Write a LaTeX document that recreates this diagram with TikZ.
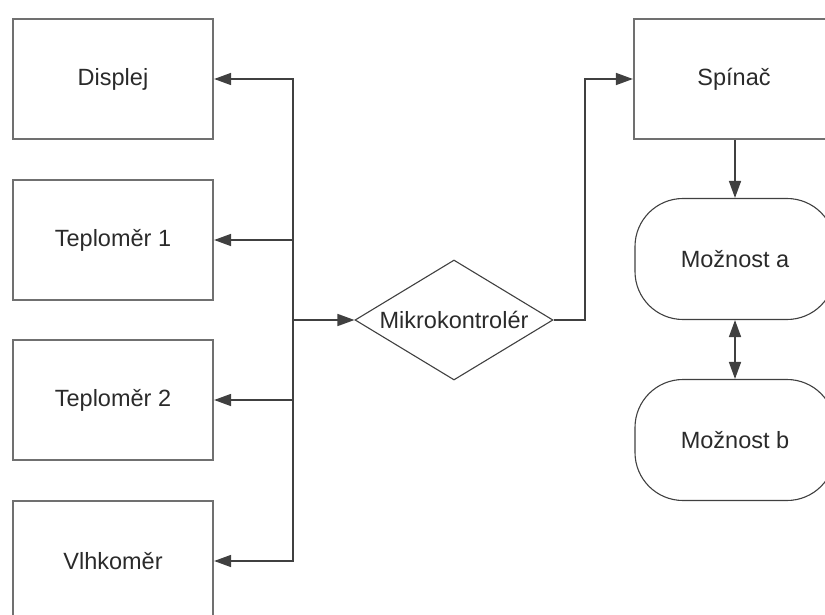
\documentclass[tikz,border=0pt]{standalone}
\usepackage{fontspec}
\setmainfont{Liberation Sans}
\usetikzlibrary{shapes.geometric,arrows.meta}
\definecolor{boxline}{HTML}{707070}
\definecolor{conline}{HTML}{404040}
\definecolor{txt}{HTML}{2A2A2A}
\begin{document}
\begin{tikzpicture}[x=1bp,y=-1bp,
  font=\fontsize{23.5bp}{28bp}\selectfont,
  every node/.style={text=txt},
  rectbox/.style={draw=boxline,line width=2.2bp,minimum width=200bp,minimum height=120bp,inner sep=0pt,rectangle},
  stadium/.style={draw=conline,line width=1.1bp,minimum width=200bp,minimum height=121bp,inner sep=0pt,rectangle,rounded corners=48bp},
  decision/.style={draw=conline,line width=1.1bp,diamond,minimum width=198bp,minimum height=120bp,inner sep=0pt,aspect=1.65},
  arr/.style={draw=conline,line width=1.6bp,-{Triangle[length=17bp,width=12bp]}},
  dblarr/.style={draw=conline,line width=1.6bp,{Triangle[length=17bp,width=12bp]}-{Triangle[length=17bp,width=12bp]}}]
\useasboundingbox (0,0) rectangle (825,615);
\clip (0,0) rectangle (825,615);
\node[rectbox] (disp) at (113,79) {Displej};
\node[rectbox] (t1) at (113,240) {Teplom\v{e}r 1};
\node[rectbox] (t2) at (113,400) {Teplom\v{e}r 2};
\node[rectbox] (vl) at (113,561) {Vlhkom\v{e}r};
\node[decision] (mk) at (454,320) {};
\node at (454,320) {Mikrokontrol\'er};
\node[rectbox] (sp) at (734,79) {Sp\'ina\v{c}};
\node[stadium] (ma) at (735,259) {Mo\v{z}nost a};
\node[stadium] (mb) at (735,440) {Mo\v{z}nost b};
\coordinate (j) at (293,320);
\coordinate (k) at (585,320);
\draw[arr] (j) |- (disp.east);
\draw[arr] (j) |- (t1.east);
\draw[arr] (j) |- (t2.east);
\draw[arr] (j) |- (vl.east);
\draw[arr] (j) -- (mk.west);
\draw[arr] (mk.east) -- (k) |- (sp.west);
\draw[arr] (sp.south -| ma.north) -- (ma.north);
\draw[dblarr] (ma.south) -- (mb.north);
\end{tikzpicture}
\end{document}
